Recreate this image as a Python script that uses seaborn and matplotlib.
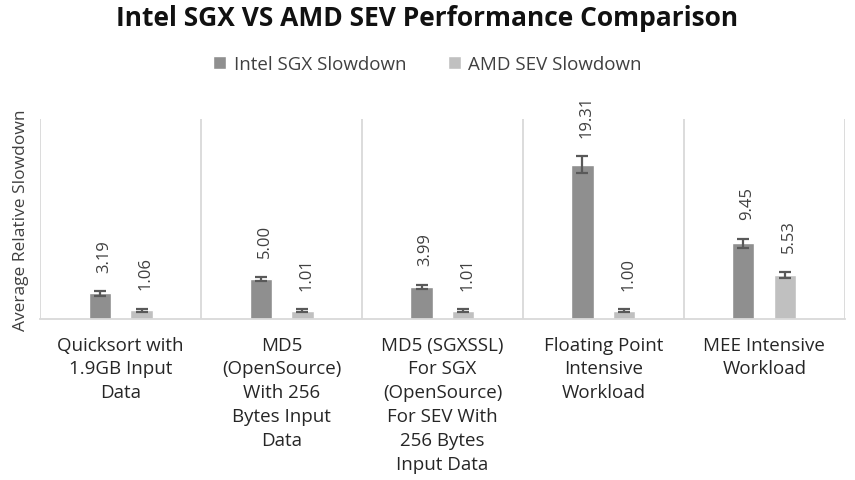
import numpy as np
import pandas as pd
import matplotlib
matplotlib.use("Agg")
import matplotlib.pyplot as plt
import seaborn as sns

# data
categories = [
    "Quicksort with\n1.9GB Input\nData",
    "MD5\n(OpenSource)\nWith 256\nBytes Input\nData",
    "MD5 (SGXSSL)\nFor SGX\n(OpenSource)\nFor SEV With\n256 Bytes\nInput Data",
    "Floating Point\nIntensive\nWorkload",
    "MEE Intensive\nWorkload",
]
series = ["Intel SGX Slowdown", "AMD SEV Slowdown"]
sgx_values = [3.19, 5.00, 3.99, 19.31, 9.45]
sev_values = [1.06, 1.01, 1.01, 1.00, 5.53]
sgx_errors = [0.30, 0.30, 0.30, 1.05, 0.60]
sev_errors = [0.20, 0.20, 0.20, 0.20, 0.35]

colors = ["#8f8f8f", "#c0c0c0"]
text_color = "#404040"

df = pd.DataFrame({
    "Category": categories * 2,
    "Series": [series[0]] * len(categories) + [series[1]] * len(categories),
    "Value": sgx_values + sev_values,
    "Error": sgx_errors + sev_errors,
})

sns.set_theme(style="white")
plt.rcParams['font.family'] = ['Open Sans', 'DejaVu Sans']

fig = plt.figure(figsize=(8.55, 4.81), dpi=100)
ax = fig.add_axes([0.047, 0.335, 0.941, 0.415])

sns.barplot(data=df, x="Category", y="Value", hue="Series", palette=colors,
            width=0.52, gap=0.47, errorbar=None, ax=ax, legend=True)

# error bars + rotated value labels, using the bar patches seaborn drew
bars = [p for p in ax.patches if p.get_width() > 0][:len(df)]
for bar, (_, row) in zip(bars, df.iterrows()):
    cx = bar.get_x() + bar.get_width() / 2
    ax.errorbar(cx, row["Value"], yerr=row["Error"], fmt="none",
                ecolor="#595959", elinewidth=1.6, capsize=4, capthick=1.6, zorder=4)
    ax.annotate(f"{row['Value']:.2f}", (cx, row["Value"] + row["Error"]),
                xytext=(3, 14), textcoords="offset points", rotation=90,
                ha="center", va="bottom", fontsize=12, color=text_color)

ax.set_ylim(0, 25)
ax.set_xlim(-0.5, len(categories) - 0.5)
ax.set_yticks([])
ax.set_xticks(np.arange(-0.5, len(categories)), minor=True)
ax.grid(axis="x", which="minor", color="#d9d9d9", linewidth=1.3)
ax.tick_params(axis="x", which="both", length=0, pad=12)
for lbl in ax.get_xticklabels():
    lbl.set_fontsize(13.5)
    lbl.set_color("#262626")
    lbl.set_linespacing(1.42)

for side in ["top", "left", "right"]:
    ax.spines[side].set_visible(False)
ax.spines["bottom"].set_color("#d9d9d9")
ax.spines["bottom"].set_linewidth(1.3)

ax.set_xlabel("")
ax.set_ylabel("Average Relative Slowdown", fontsize=12.5, color=text_color, labelpad=8)

ax.legend(loc="center", bbox_to_anchor=(0.5, 0.865), bbox_transform=fig.transFigure,
          ncol=2, frameon=False, fontsize=13.5, handlelength=0.7, handleheight=0.7,
          columnspacing=2.2, handletextpad=0.4, labelcolor=text_color)

fig.suptitle("Intel SGX VS AMD SEV Performance Comparison", y=0.99,
             fontsize=19, fontweight="bold", color="#111111")

plt.savefig("out.png", dpi=100)
